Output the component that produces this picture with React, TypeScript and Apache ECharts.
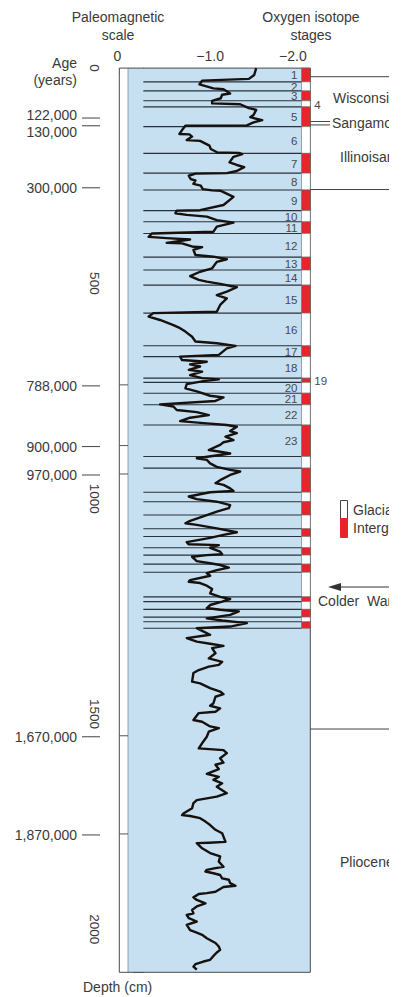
import React, { useEffect, useRef } from "react";
import * as echarts from "echarts";

// ---------- Oxygen isotope curve (depth in cm, delta 18O per mil) ----------
const depthUpper = [0, 16, 25, 29, 38, 47, 49, 59, 62, 70, 76, 82, 84, 93, 97, 109, 114, 121, 126, 133, 134, 144, 153, 154, 159, 167, 169, 180, 188, 196, 197, 200, 206, 219, 225, 230, 239, 244, 245, 250, 258, 261, 269, 273, 281, 284, 285,
  299, 318, 330, 331, 337, 341, 345, 353, 359, 368, 380, 384, 392, 395, 398, 406, 407, 415, 416, 422, 434, 438, 444, 450, 465, 473, 483, 492, 496, 501, 509, 519, 527, 535, 550, 566, 569, 577, 585, 597];
const d18OUpper = [-1.69, -1.66, -1.58, -0.88, -0.84, -1.05, -1.2, -1.3, -1.18, -1.16, -1.03, -1.03, -1.45, -1.58, -1.69, -1.65, -1.6, -1.78, -1.65, -1.55, -0.63, -0.58, -0.54, -0.69, -0.73, -0.65, -0.85, -0.99, -1.01, -1.11, -1.43, -1.48, -1.35, -1.29, -1.4, -1.51, -1.4, -1.25, -0.78, -0.68, -0.71, -0.78, -0.75, -0.86, -0.89, -1.03, -1.16,
  -1.35, -1.2, -0.85, -0.5, -0.48, -0.65, -0.95, -1.1, -1.35, -1.1, -1.05, -0.13, -0.08, -0.35, -0.7, -0.35, -0.58, -0.75, -0.88, -0.75, -0.78, -1.05, -1.25, -1.1, -1.03, -0.85, -0.7, -0.83, -0.95, -1.15, -1.4, -1.25, -1.1, -1.25, -1.15, -1.1, -0.15, -0.08, -0.25, -0.45];

const depthMiddle = [604, 612, 624, 635, 639, 645, 651, 666, 670, 678, 682, 688, 693, 701, 705, 713, 720, 723, 727, 734, 744, 751, 761, 765, 773, 781, 786, 794, 799, 806, 812, 820, 825, 829, 833, 843, 848, 856, 864, 869, 875, 887, 891, 895,
  906, 910, 918, 926, 933, 937, 945, 957, 964, 968, 976, 982, 985, 995, 1001, 1007, 1015, 1022, 1030, 1038, 1053, 1057, 1061, 1069, 1078, 1084, 1091, 1101, 1106, 1108, 1114, 1123, 1129, 1131, 1135, 1145, 1150, 1154, 1160, 1166, 1173, 1179, 1189, 1193, 1196, 1202, 1210, 1220, 1228, 1233, 1239, 1247, 1254, 1258, 1262, 1270, 1278, 1283, 1289, 1297, 1301, 1307, 1316];
const d18OMiddle = [-0.55, -0.63, -0.73, -0.78, -1.1, -1.38, -1.25, -1.13, -0.55, -0.58, -0.95, -0.7, -0.85, -0.68, -0.88, -0.7, -0.88, -1.13, -0.9, -0.65, -0.63, -0.8, -1.0, -1.2, -1.08, -0.25, -0.45, -0.5, -0.8, -0.98, -0.7, -0.55, -0.95, -1.25, -1.4, -1.3, -1.4, -1.23, -1.35, -1.2, -1.15, -0.98, -1.15, -1.3,
  -0.8, -0.95, -1.0, -1.1, -1.3, -1.45, -1.3, -1.15, -1.08, -1.2, -1.3, -1.35, -1.0, -0.68, -0.8, -1.1, -1.3, -1.28, -1.1, -0.95, -0.68, -0.63, -0.8, -1.1, -1.4, -1.2, -1.0, -0.65, -0.68, -1.13, -1.0, -1.15, -1.18, -0.95, -0.73, -0.8, -1.0, -1.15, -1.28, -1.1, -0.95, -1.0, -0.7, -0.68, -0.85, -0.95, -1.03, -1.0, -1.15, -1.3, -1.18, -1.0, -0.95, -1.15, -1.43, -1.3, -0.95, -1.18, -1.55, -1.3, -0.8, -0.88, -1.0];

const depthLower = [1324, 1332, 1337, 1342, 1347, 1359, 1371, 1379, 1386, 1390, 1398, 1405, 1425, 1429, 1440, 1448, 1454, 1460, 1475, 1481, 1487, 1495, 1498, 1514, 1518, 1529, 1533, 1541, 1553, 1568, 1580, 1584, 1591, 1603, 1613, 1618, 1628, 1639, 1646, 1653, 1661, 1669, 1684, 1692, 1700,
  1707, 1719, 1731, 1735, 1737, 1742, 1750, 1758, 1769, 1777, 1785, 1797, 1799, 1800, 1812, 1823, 1831, 1843, 1855, 1858, 1862, 1866, 1870, 1874, 1882, 1885, 1893, 1899, 1902, 1913, 1916, 1918, 1926, 1932, 1940, 1947, 1955, 1963, 1967, 1974, 1982, 1990, 2002, 2008, 2013, 2021, 2032, 2040, 2048, 2054, 2062, 2071, 2075, 2081, 2087, 2094];
const d18OLower = [-0.65, -0.8, -1.0, -1.2, -1.03, -1.08, -0.98, -1.18, -1.13, -0.98, -0.83, -0.75, -0.73, -0.85, -1.0, -1.15, -1.2, -1.08, -1.05, -1.0, -1.15, -1.08, -0.83, -0.75, -0.88, -1.0, -1.13, -0.98, -0.95, -0.88, -0.83, -1.2, -1.25, -1.15, -1.2, -1.08, -1.13, -0.95, -1.13, -1.05, -1.18, -1.1, -1.25, -1.1, -0.8,
  -0.75, -0.73, -0.6, -0.58, -0.7, -0.85, -0.93, -1.0, -1.08, -1.18, -1.2, -1.23, -0.98, -0.8, -0.88, -1.0, -1.15, -1.13, -1.2, -1.08, -0.95, -0.93, -1.05, -1.15, -1.18, -1.28, -1.3, -1.38, -1.2, -1.08, -0.95, -0.83, -0.75, -0.8, -0.93, -0.8, -0.73, -0.75, -0.65, -0.68, -0.8, -0.65, -0.7, -0.8, -0.88, -0.95, -1.08, -1.13, -1.15, -1.1, -1.05, -1.0, -0.9, -0.78, -0.75, -0.8];

// ---------- Oxygen isotope stage boundaries (depth, cm) ----------
const stageBoundaries = [0, 32, 53, 76, 90, 136, 198, 244, 283, 331, 357, 384, 439, 469, 504, 569, 645, 670, 720, 730, 755, 782, 829, 902, 929, 985, 1007, 1038, 1070, 1088, 1114, 1131, 1152, 1171, 1228, 1239, 1257, 1275, 1286, 1301];
const lastNumberedStage = 23;
const stagesLabelledOutside = [4, 19];

// ---------- Age markers (years) on the depth scale ----------
const ageLabels = ["122,000", "130,000", "300,000", "788,000", "900,000", "970,000", "1,670,000", "1,870,000"];
const ageDepths = [116, 134, 278, 738, 879, 945, 1553, 1781];
const paleomagneticReversals = ["788,000", "900,000", "970,000", "1,670,000", "1,870,000"];

// ---------- Stratigraphic names ----------
const epochNames = ["Wisconsin", "Sangamon", "Illinoisan", "Pliocene"];
const epochDepths = [69, 128, 207, 1844];
const epochBoundaryDepths = [20, 282, 1535];
const sangamonBoundaryDepths = [124, 132];

// ---------- Axis ticks ----------
const depthLabelValues = [0, 500, 1000, 1500, 2000];
const isotopeLabelValues = [0, -1, -2];

const FONT = '"Liberation Sans", Arial, Helvetica, sans-serif';
const TXT = "#3a3a3a";
const BLUE = "#c6dff1";
const RED = "#e8232a";
const LINE = "#27323a";

const ageTextShift = [-3, 6, 0, 0, 0, 0, 0, 0];
const epochX = [333, 332, 340, 340];

function txt(x: number, y: number, text: string, align: string, size = 14, color = TXT) {
  return {
    type: "text",
    x,
    y,
    silent: true,
    style: {
      text,
      fill: color,
      fontSize: size,
      fontFamily: FONT,
      align,
      textAlign: align,
      verticalAlign: "middle",
      textVerticalAlign: "middle",
    },
  };
}

export default function App() {
  const ref = useRef<HTMLDivElement>(null);

  useEffect(() => {
    if (!ref.current) return;
    const chart = echarts.init(ref.current, undefined, { renderer: "svg" });

    const curve: number[][] = [];
    const parts: [number[], number[]][] = [
      [depthUpper, d18OUpper],
      [depthMiddle, d18OMiddle],
      [depthLower, d18OLower],
    ];
    parts.forEach(([dep, val]) => {
      const n = Math.min(dep.length, val.length);
      for (let i = 0; i < n; i++) curve.push([val[i], dep[i]]);
    });

    const stageData = stageBoundaries.slice(1).map((b, i) => [i + 1, stageBoundaries[i], b]);

    const option: any = {
      animation: false,
      backgroundColor: "#ffffff",
      textStyle: { fontFamily: FONT },
      grid: { left: 119.3, top: 68.1, width: 191, height: 904.2 },
      xAxis: {
        type: "value",
        position: "top",
        inverse: true,
        min: -2.5,
        max: 0.36,
        interval: 0.5,
        splitLine: { show: false },
        axisLine: { show: true, lineStyle: { color: "#555", width: 1 } },
        axisTick: { show: true, inside: true, length: 6, lineStyle: { color: "#555", width: 1 } },
        axisLabel: {
          margin: 5,
          fontSize: 14,
          color: TXT,
          fontFamily: FONT,
          formatter: (v: number) => {
            const hit = isotopeLabelValues.find((t) => Math.abs(t - v) < 1e-9);
            if (hit === undefined) return "";
            if (hit === 0) return "{l|0}";
            if (hit === -2) return "{r|\u22122.0}";
            return "\u22121.0";
          },
          rich: {
            l: { padding: [0, 52, 0, 0], fontSize: 14, color: TXT, fontFamily: FONT },
            r: { padding: [0, 0, 0, 32], fontSize: 14, color: TXT, fontFamily: FONT },
          },
        },
      },
      yAxis: {
        type: "value",
        inverse: true,
        min: 0,
        max: 2100,
        interval: 50,
        splitLine: { show: false },
        axisLine: { show: true, lineStyle: { color: "#555", width: 1 } },
        axisTick: { show: true, inside: false, length: 10, lineStyle: { color: "#555", width: 1 } },
        axisLabel: {
          rotate: -90,
          margin: 18,
          fontSize: 13.5,
          color: TXT,
          fontFamily: FONT,
          formatter: (v: number) => (depthLabelValues.indexOf(v) >= 0 ? String(v) : ""),
        },
      },
      series: [
        {
          type: "custom",
          name: "background",
          silent: true,
          z: 1,
          data: [[0, 0]],
          renderItem: (params: any) => {
            const cs = params.coordSys;
            const strip = 8.7;
            return {
              type: "group",
              children: [
                { type: "rect", shape: { x: cs.x, y: cs.y, width: strip, height: cs.height }, style: { fill: "#ffffff" } },
                { type: "rect", shape: { x: cs.x + strip, y: cs.y, width: cs.width - strip, height: cs.height }, style: { fill: BLUE } },
                { type: "line", shape: { x1: cs.x + strip, y1: cs.y, x2: cs.x + strip, y2: cs.y + cs.height }, style: { stroke: "#7f8a92", lineWidth: 0.8 } },
                { type: "rect", shape: { x: cs.x, y: cs.y, width: cs.width, height: cs.height }, style: { fill: "none", stroke: "#4a4a4a", lineWidth: 1 } },
              ],
            };
          },
        },
        {
          type: "custom",
          name: "Oxygen isotope stages",
          silent: true,
          z: 3,
          data: stageData,
          renderItem: (params: any, api: any) => {
            const n = api.value(0);
            const top = api.value(1);
            const bot = api.value(2);
            const cs = params.coordSys;
            const y0 = api.coord([0, top])[1];
            const y1 = api.coord([0, bot])[1];
            const x0 = api.coord([0, bot])[0];
            const colW = 8.8;
            const colL = cs.x + cs.width - colW;
            const children: any[] = [
              { type: "rect", shape: { x: colL, y: y0, width: colW, height: y1 - y0 }, style: { fill: n % 2 === 1 ? RED : "#ffffff", stroke: "#6b6b6b", lineWidth: 0.6 } },
              { type: "line", shape: { x1: x0, y1: y1, x2: colL, y2: y1 }, style: { stroke: LINE, lineWidth: 1.1 } },
            ];
            if (n <= lastNumberedStage) {
              const ym = (y0 + y1) / 2;
              if (stagesLabelledOutside.indexOf(n) >= 0) {
                children.push(txt(cs.x + cs.width + 4, ym + 1, String(n), "left", 11.5, "#4a4a4a"));
              } else {
                children.push(txt(colL - 4, ym + 0.5, String(n), "right", 11.5, "#4a4a4a"));
              }
            }
            return { type: "group", children };
          },
        },
        {
          type: "line",
          name: "Oxygen isotope curve",
          data: curve,
          z: 5,
          showSymbol: false,
          symbol: "none",
          silent: true,
          lineStyle: { color: "#17110d", width: 2.4, join: "round" },
        },
        {
          type: "custom",
          name: "Age markers",
          silent: true,
          z: 3,
          data: ageDepths.map((d, i) => [i, d]),
          renderItem: (params: any, api: any) => {
            const i = api.value(0);
            const d = api.value(1);
            const cs = params.coordSys;
            const y = api.coord([0, d])[1];
            const children: any[] = [
              { type: "line", shape: { x1: 82, y1: y, x2: 100, y2: y }, style: { stroke: "#444", lineWidth: 1 } },
              txt(77, y + ageTextShift[i], ageLabels[i], "right", 14),
            ];
            if (paleomagneticReversals.indexOf(ageLabels[i]) >= 0) {
              children.push({ type: "line", shape: { x1: cs.x, y1: y - 1, x2: cs.x + 8.7, y2: y - 1 }, style: { stroke: "#555", lineWidth: 1 } });
            }
            return { type: "group", children };
          },
        },
        {
          type: "custom",
          name: "Epoch names",
          silent: true,
          z: 3,
          data: epochDepths.map((d, i) => [i, d]),
          renderItem: (params: any, api: any) => {
            const i = api.value(0);
            const y = api.coord([0, api.value(1)])[1];
            return txt(epochX[i], y, epochNames[i], "left", 14);
          },
        },
        {
          type: "custom",
          name: "Epoch boundaries",
          silent: true,
          z: 3,
          data: epochBoundaryDepths.map((d, i) => [i, d]),
          renderItem: (params: any, api: any) => {
            const cs = params.coordSys;
            const y = api.coord([0, api.value(1)])[1];
            return { type: "line", shape: { x1: cs.x + cs.width, y1: y, x2: 400, y2: y }, style: { stroke: "#444", lineWidth: 1 } };
          },
        },
        {
          type: "custom",
          name: "Sangamon boundaries",
          silent: true,
          z: 3,
          data: sangamonBoundaryDepths.map((d, i) => [i, d]),
          renderItem: (params: any, api: any) => {
            const cs = params.coordSys;
            const y = api.coord([0, api.value(1)])[1];
            return { type: "line", shape: { x1: cs.x + cs.width, y1: y, x2: 330, y2: y }, style: { stroke: "#444", lineWidth: 1 } };
          },
        },
      ],
      graphic: {
        elements: [
          txt(118, 17, "Paleomagnetic", "center"),
          txt(118, 35, "scale", "center"),
          txt(311, 17, "Oxygen isotope", "center"),
          txt(311, 35, "stages", "center"),
          txt(77, 63, "Age", "right"),
          txt(77, 80, "(years)", "right"),
          txt(83, 987, "Depth (cm)", "left"),
          { type: "rect", silent: true, shape: { x: 340.5, y: 500.5, width: 7, height: 18 }, style: { fill: "#ffffff", stroke: "#444", lineWidth: 1 } },
          { type: "rect", silent: true, shape: { x: 340.5, y: 518.5, width: 7, height: 19 }, style: { fill: RED, stroke: RED, lineWidth: 1 } },
          txt(353, 510, "Glacial", "left"),
          txt(353, 528, "Interglacial", "left"),
          { type: "line", silent: true, shape: { x1: 338, y1: 587, x2: 400, y2: 587 }, style: { stroke: "#333", lineWidth: 1.2 } },
          { type: "polygon", silent: true, shape: { points: [[328, 587], [341, 583], [341, 591]] }, style: { fill: "#333" } },
          txt(318, 601, "Colder  Warmer", "left"),
        ],
      },
    };

    chart.setOption(option);
    return () => chart.dispose();
  }, []);

  return (
    <div
      ref={ref}
      style={{ position: "absolute", left: 0, top: 0, width: 389, height: 997, background: "#fff" }}
    />
  );
}
